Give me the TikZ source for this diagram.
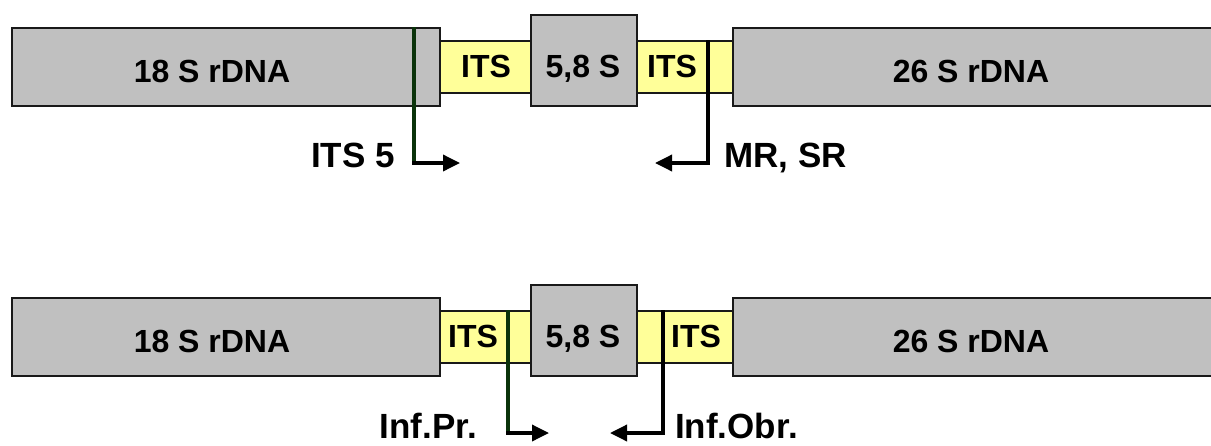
\documentclass[tikz,border=0pt]{standalone}
\usepackage{fontspec}
\setmainfont{Liberation Sans}
\usetikzlibrary{arrows.meta}
\definecolor{boxgrey}{HTML}{C0C0C0}
\definecolor{itsyellow}{HTML}{FFFF99}
\definecolor{dkgreen}{HTML}{0A330A}
\begin{document}
\begin{tikzpicture}[x=1pt,y=-1pt,
  gbox/.style={draw=black!90, line width=1.5pt, fill=boxgrey, inner sep=0pt, anchor=north west, minimum height=78pt},
  sbox/.style={draw=black!90, line width=1.5pt, fill=boxgrey, inner sep=0pt, anchor=north west, minimum width=106pt, minimum height=91pt},
  yband/.style={draw=black!90, line width=1.5pt, fill=itsyellow, inner sep=0pt, anchor=north west, minimum width=293pt, minimum height=52pt},
  boxtxt/.style={inner sep=0pt, anchor=base, font=\fontsize{32}{36}\selectfont\bfseries},
  lbl/.style={inner sep=0pt, font=\fontsize{35}{40}\selectfont\bfseries},
  gline/.style={draw=dkgreen, line width=3.5pt},
  bline/.style={draw=black, line width=3.5pt},
  harrow/.style={draw=black, line width=3.5pt, -{Triangle[length=17pt,width=16pt]}}
]
\useasboundingbox (0,0) rectangle (1211,445);

% ---------- top row ----------
\node[yband] (yb1) at (439,40) {};
\node[gbox, minimum width=428pt] (s18a) at (11,27) {};
\node[gbox, minimum width=485pt] (s26a) at (732,27) {};
\node[sbox] (s58a) at (530,14) {};
\node[boxtxt] (t18a) at (212,82) {18 S rDNA};
\node[boxtxt] (t26a) at (971,82) {26 S rDNA};
\node[boxtxt] (ti1a) at (486,77) {ITS};
\node[boxtxt] (t58a) at (583,77) {5,8 S};
\node[boxtxt] (ti2a) at (672,77) {ITS};

\coordinate (ga1) at (414,27);
\coordinate (ga2) at (414,163);
\coordinate (ga3) at (460,163);
\coordinate (ba1) at (708,40);
\coordinate (ba2) at (708,163);
\coordinate (ba3) at (655,163);
\draw[gline] (ga1) -- (ga2);
\draw[harrow] ([xshift=-1.75pt]ga2) -- (ga3);
\draw[bline] (ba1) -- (ba2);
\draw[harrow] ([xshift=1.75pt]ba2) -- (ba3);
\node[lbl, anchor=base east] (la1) at (395,167) {ITS 5};
\node[lbl, anchor=base west] (la2) at (724,167) {MR, SR};

% ---------- bottom row ----------
\node[yband] (yb2) at (439,310) {};
\node[gbox, minimum width=428pt] (s18b) at (11,297) {};
\node[gbox, minimum width=485pt] (s26b) at (732,297) {};
\node[sbox] (s58b) at (530,284) {};
\node[boxtxt] (t18b) at (212,352) {18 S rDNA};
\node[boxtxt] (t26b) at (971,352) {26 S rDNA};
\node[boxtxt] (ti1b) at (473,347) {ITS};
\node[boxtxt] (t58b) at (583,347) {5,8 S};
\node[boxtxt] (ti2b) at (696,347) {ITS};

\coordinate (gb1) at (508,310);
\coordinate (gb2) at (508,433);
\coordinate (gb3) at (549,433);
\coordinate (bb1) at (663,310);
\coordinate (bb2) at (663,433);
\coordinate (bb3) at (610,433);
\draw[gline] (gb1) -- (gb2);
\draw[harrow] ([xshift=-1.75pt]gb2) -- (gb3);
\draw[bline] (bb1) -- (bb2);
\draw[harrow] ([xshift=1.75pt]bb2) -- (bb3);
\node[lbl, anchor=base east] (lb1) at (477,438) {Inf.Pr.};
\node[lbl, anchor=base west] (lb2) at (675,438) {Inf.Obr.};
\end{tikzpicture}
\end{document}
